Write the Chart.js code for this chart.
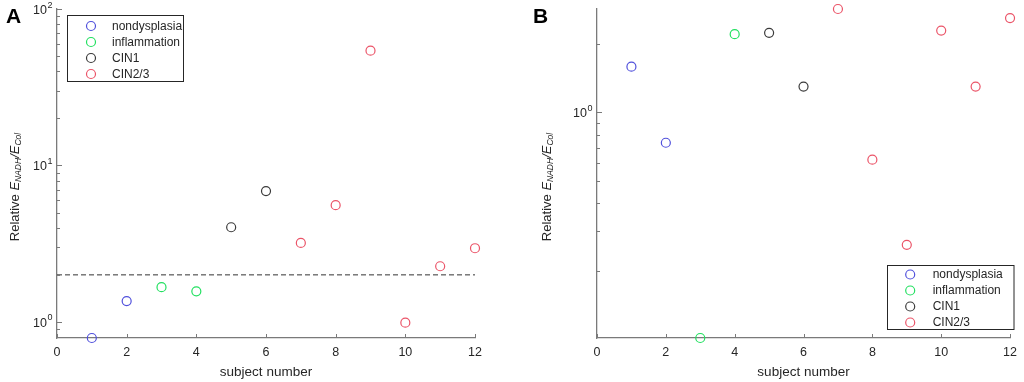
<!DOCTYPE html>
<html lang="en">
<head>
<meta charset="UTF-8">
<title>Relative E_NADH/E_Col per subject</title>
<script src="https://cdn.jsdelivr.net/npm/chart.js"></script>
<style>
    html, body { margin: 0; padding: 0; background: #ffffff; }
    #wrap { position: relative; width: 1024px; height: 382px; overflow: hidden; }
    .panel { position: absolute; top: 0; width: 512px; height: 382px; }
    #panelA { left: 0; }
    #panelB { left: 512px; }
</style>
</head>
<body>
<div id="wrap">
    <div class="panel" id="panelA"><canvas id="chartA" width="512" height="382"></canvas></div>
    <div class="panel" id="panelB"><canvas id="chartB" width="512" height="382"></canvas></div>
</div>
<script>
// ---- data ----
const groups = ['nondysplasia', 'inflammation', 'CIN1', 'CIN2/3'];
const subjNondysplasia = [1, 2];
const subjInflammation = [3, 4];
const subjCIN1 = [5, 6];
const subjCIN23 = [7, 8, 9, 10, 11, 12];

// panel A values
const aNondysplasia = [0.79, 1.36];
const aInflammation = [1.67, 1.57];
const aCIN1 = [4.03, 6.86];
const aCIN23 = [3.20, 5.58, 54.2, 0.99, 2.27, 2.96];
const thresholdA = 2;

// panel B values
const bNondysplasia = [1.59, 0.736];
const bInflammation = [0.102, 2.21];
const bCIN1 = [2.24, 1.30];
const bCIN23 = [2.85, 0.62, 0.262, 2.29, 1.30, 2.60];

const xTicks = [0, 2, 4, 6, 8, 10, 12];
const yTicksA = [1, 10, 100];
const yExpA = ['0', '1', '2'];
const yTicksB = [1];
const yExpB = ['0'];

// ---- style ----
const FONT = '"Liberation Sans", Arial, Helvetica, sans-serif';
const axisColor = '#7a7a7a';
const textColor = '#262626';
const groupColors = ['#5050dc', '#22e060', '#3a3a3a', '#eb5468'];
const minorTicksA = [0.8, 0.9, 2, 3, 4, 5, 6, 7, 8, 9, 20, 30, 40, 50, 60, 70, 80, 90];
const minorTicksB = [0.2, 0.3, 0.4, 0.5, 0.6, 0.7, 0.8, 0.9, 2];

function toPoints(xs, ys) {
    return xs.map((x, i) => ({ x: x, y: ys[i] }));
}

// MATLAB-like axes: inward ticks, superscript tick labels, rich y label, boxed legend
const matlabAxes = {
    id: 'matlabAxes',
    afterDraw(chart, args, o) {
        const { ctx, chartArea: a, scales: { x, y } } = chart;
        ctx.save();

        // tick marks pointing into the plot
        ctx.strokeStyle = axisColor;
        ctx.lineWidth = 1;
        ctx.beginPath();
        xTicks.forEach(v => {
            const px = Math.round(x.getPixelForValue(v)) + 0.5;
            ctx.moveTo(px, a.bottom);
            ctx.lineTo(px, a.bottom - 4);
        });
        o.yTicks.forEach(v => {
            const py = Math.round(y.getPixelForValue(v)) + 0.5;
            ctx.moveTo(a.left, py);
            ctx.lineTo(a.left + 5, py);
        });
        o.minor.filter(v => v > y.min && v < y.max).forEach(v => {
            const py = Math.round(y.getPixelForValue(v)) + 0.5;
            ctx.moveTo(a.left, py);
            ctx.lineTo(a.left + 3, py);
        });
        ctx.stroke();

        // y tick labels 10^n
        ctx.fillStyle = textColor;
        ctx.textAlign = 'left';
        ctx.textBaseline = 'alphabetic';
        o.yTicks.forEach((v, i) => {
            const py = y.getPixelForValue(v);
            ctx.font = '12.5px ' + FONT;
            const wb = ctx.measureText('10').width;
            ctx.font = '9px ' + FONT;
            const we = ctx.measureText(o.yExp[i]).width;
            const x0 = a.left - 5 - wb - we;
            ctx.font = '12.5px ' + FONT;
            ctx.fillText('10', x0, py + 5);
            ctx.font = '9px ' + FONT;
            ctx.fillText(o.yExp[i], x0 + wb + 0.5, py - 1.5);
        });

        // x axis title
        ctx.font = '13.5px ' + FONT;
        ctx.textAlign = 'center';
        ctx.fillText('subject number', (a.left + a.right) / 2, 376);

        // y axis title: Relative E_NADH/E_Col
        const runs = [
            { t: 'Relative ', it: false, sub: false },
            { t: 'E', it: true, sub: false },
            { t: 'NADH', it: true, sub: true },
            { t: '/', it: true, sub: false },
            { t: 'E', it: true, sub: false },
            { t: 'Col', it: true, sub: true }
        ];
        const fontOf = r => (r.it ? 'italic ' : '') + (r.sub ? '8.5px ' : '13px ') + FONT;
        let total = 0;
        runs.forEach(r => { ctx.font = fontOf(r); r.w = ctx.measureText(r.t).width; total += r.w; });
        ctx.translate(o.titleX, o.titleY);
        ctx.rotate(-Math.PI / 2);
        ctx.textAlign = 'left';
        let cx = -total / 2;
        runs.forEach(r => {
            ctx.font = fontOf(r);
            ctx.fillText(r.t, cx, r.sub ? 2.5 : 0);
            cx += r.w;
        });
        ctx.setTransform(1, 0, 0, 1, 0, 0);

        // panel letter
        ctx.font = 'bold 21px ' + FONT;
        ctx.fillStyle = '#000000';
        ctx.textAlign = 'left';
        ctx.fillText(o.letter, o.letterX, 23);

        // legend box
        const L = o.legend;
        ctx.fillStyle = '#ffffff';
        ctx.fillRect(L.x, L.y, L.w, L.h);
        ctx.strokeStyle = '#262626';
        ctx.lineWidth = 1;
        ctx.strokeRect(Math.round(L.x) + 0.5, Math.round(L.y) + 0.5, L.w, L.h);
        ctx.font = '12px ' + FONT;
        ctx.textBaseline = 'middle';
        chart.data.datasets.filter(d => d.inLegend).forEach((d, i) => {
            const ry = L.y + L.first + i * L.row;
            ctx.beginPath();
            ctx.strokeStyle = d.borderColor;
            ctx.lineWidth = 1.2;
            ctx.arc(L.x + L.mark, ry, 4.5, 0, Math.PI * 2);
            ctx.stroke();
            ctx.fillStyle = textColor;
            ctx.fillText(d.label, L.x + L.text, ry + 0.5);
        });
        ctx.restore();
    }
};

function scatterSet(label, xs, ys, color) {
    return {
        type: 'scatter',
        label: label,
        inLegend: true,
        data: toPoints(xs, ys),
        borderColor: color,
        backgroundColor: 'rgba(0,0,0,0)',
        pointRadius: 4.5,
        pointBorderWidth: 1.2,
        showLine: false,
        clip: false
    };
}

function makePanel(id, sets, yMin, yMax, extra, opts) {
    const datasets = sets.map((s, i) => scatterSet(groups[i], s[0], s[1], groupColors[i]));
    if (extra) datasets.unshift(extra);
    return new Chart(document.getElementById(id), {
        type: 'scatter',
        data: { datasets: datasets },
        options: {
            responsive: false,
            animation: false,
            events: [],
            layout: { padding: { top: 9, right: opts.padRight, left: 0, bottom: 0 } },
            plugins: {
                legend: { display: false },
                tooltip: { enabled: false },
                matlabAxes: opts
            },
            scales: {
                x: {
                    type: 'linear',
                    min: 0,
                    max: 12,
                    afterFit: s => { s.height = 44; },
                    afterBuildTicks: s => { s.ticks = xTicks.map(v => ({ value: v })); },
                    grid: { display: false, drawTicks: false },
                    border: { display: true, color: axisColor, width: 1.3 },
                    ticks: { color: textColor, padding: 7, font: { family: FONT, size: 12.5 } }
                },
                y: {
                    type: 'logarithmic',
                    min: yMin,
                    max: yMax,
                    afterFit: s => { s.width = opts.yWidth; },
                    grid: { display: false, drawTicks: false },
                    border: { display: true, color: axisColor, width: 1.3 },
                    ticks: { display: false }
                }
            }
        },
        plugins: [matlabAxes]
    });
}

const allA = [].concat(aNondysplasia, aInflammation, aCIN1, aCIN23);
const allB = [].concat(bNondysplasia, bInflammation, bCIN1, bCIN23);

makePanel('chartA', [
    [subjNondysplasia, aNondysplasia],
    [subjInflammation, aInflammation],
    [subjCIN1, aCIN1],
    [subjCIN23, aCIN23]
], Math.min(...allA), 100, {
    type: 'line',
    label: 'threshold',
    data: [{ x: 0, y: thresholdA }, { x: 12, y: thresholdA }],
    borderColor: '#333333',
    borderWidth: 1,
    borderDash: [5, 3],
    pointRadius: 0,
    showLine: true
}, {
    yWidth: 57, padRight: 37, yTicks: yTicksA, yExp: yExpA, minor: minorTicksA,
    titleX: 18.5, titleY: 187, letter: 'A', letterX: 6,
    legend: { x: 67, y: 15, w: 116, h: 66, mark: 24, text: 45, first: 11, row: 16 }
});

makePanel('chartB', [
    [subjNondysplasia, bNondysplasia],
    [subjInflammation, bInflammation],
    [subjCIN1, bCIN1],
    [subjCIN23, bCIN23]
], Math.min(...allB), Math.max(...allB), null, {
    yWidth: 85, padRight: 10, yTicks: yTicksB, yExp: yExpB, minor: minorTicksB,
    titleX: 38.7, titleY: 187, letter: 'B', letterX: 21,
    legend: { x: 374.7, y: 265, w: 126.5, h: 64, mark: 23.5, text: 46, first: 9.5, row: 16 }
});
</script>
</body>
</html>
